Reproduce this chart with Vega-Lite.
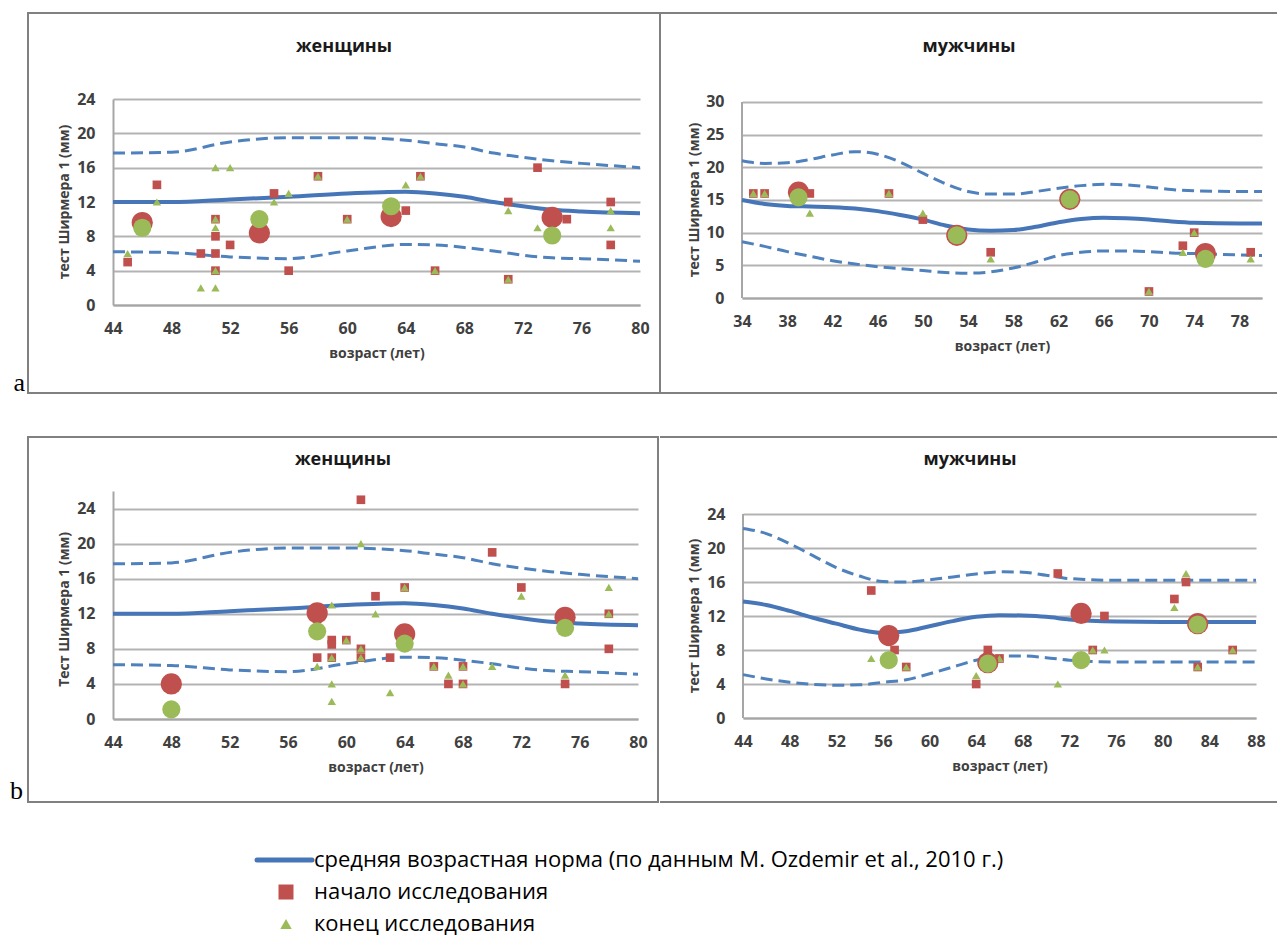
{
  "$schema": "https://vega.github.io/schema/vega-lite/v6.json",
  "padding": {"left": 10, "top": 12, "right": 0, "bottom": 0},
  "autosize": {"type": "pad"},
  "background": "white",
  "spacing": 38,
  "datasets": {
    "norm": [
      {"g":"w","k":"m","age":44,"v":12},{"g":"w","k":"m","age":48,"v":12},{"g":"w","k":"m","age":52,"v":12.3},{"g":"w","k":"m","age":56,"v":12.6},{"g":"w","k":"m","age":60,"v":13},{"g":"w","k":"m","age":64,"v":13.2},{"g":"w","k":"m","age":66,"v":13},{"g":"w","k":"m","age":68,"v":12.6},{"g":"w","k":"m","age":70,"v":12},{"g":"w","k":"m","age":72,"v":11.5},{"g":"w","k":"m","age":74,"v":11.1},{"g":"w","k":"m","age":76,"v":10.9},{"g":"w","k":"m","age":80,"v":10.7},
      {"g":"w","k":"h","age":44,"v":17.7},{"g":"w","k":"h","age":48,"v":17.8},{"g":"w","k":"h","age":52,"v":19},{"g":"w","k":"h","age":56,"v":19.5},{"g":"w","k":"h","age":60,"v":19.5},{"g":"w","k":"h","age":64,"v":19.2},{"g":"w","k":"h","age":66,"v":18.8},{"g":"w","k":"h","age":68,"v":18.4},{"g":"w","k":"h","age":70,"v":17.7},{"g":"w","k":"h","age":72,"v":17.2},{"g":"w","k":"h","age":74,"v":16.8},{"g":"w","k":"h","age":76,"v":16.5},{"g":"w","k":"h","age":80,"v":16},
      {"g":"w","k":"l","age":44,"v":6.2},{"g":"w","k":"l","age":48,"v":6.1},{"g":"w","k":"l","age":52,"v":5.6},{"g":"w","k":"l","age":56,"v":5.4},{"g":"w","k":"l","age":60,"v":6.3},{"g":"w","k":"l","age":64,"v":7.05},{"g":"w","k":"l","age":66,"v":7},{"g":"w","k":"l","age":68,"v":6.7},{"g":"w","k":"l","age":70,"v":6.3},{"g":"w","k":"l","age":72,"v":5.8},{"g":"w","k":"l","age":74,"v":5.5},{"g":"w","k":"l","age":76,"v":5.4},{"g":"w","k":"l","age":80,"v":5.1},
      {"g":"ma","k":"m","age":34,"v":15},{"g":"ma","k":"m","age":36,"v":14.4},{"g":"ma","k":"m","age":38,"v":14.1},{"g":"ma","k":"m","age":40,"v":14},{"g":"ma","k":"m","age":42,"v":13.9},{"g":"ma","k":"m","age":44,"v":13.7},{"g":"ma","k":"m","age":46,"v":13.3},{"g":"ma","k":"m","age":48,"v":12.7},{"g":"ma","k":"m","age":50,"v":12},{"g":"ma","k":"m","age":52,"v":11.1},{"g":"ma","k":"m","age":54,"v":10.5},{"g":"ma","k":"m","age":56,"v":10.3},{"g":"ma","k":"m","age":58,"v":10.4},{"g":"ma","k":"m","age":60,"v":10.9},{"g":"ma","k":"m","age":62,"v":11.6},{"g":"ma","k":"m","age":64,"v":12.1},{"g":"ma","k":"m","age":66,"v":12.3},{"g":"ma","k":"m","age":68,"v":12.2},{"g":"ma","k":"m","age":70,"v":12},{"g":"ma","k":"m","age":72,"v":11.7},{"g":"ma","k":"m","age":74,"v":11.5},{"g":"ma","k":"m","age":78,"v":11.4},{"g":"ma","k":"m","age":80,"v":11.4},
      {"g":"ma","k":"h","age":34,"v":21},{"g":"ma","k":"h","age":36,"v":20.6},{"g":"ma","k":"h","age":38,"v":20.7},{"g":"ma","k":"h","age":40,"v":21.2},{"g":"ma","k":"h","age":42,"v":21.9},{"g":"ma","k":"h","age":44,"v":22.4},{"g":"ma","k":"h","age":46,"v":22},{"g":"ma","k":"h","age":48,"v":20.8},{"g":"ma","k":"h","age":50,"v":19.1},{"g":"ma","k":"h","age":52,"v":17.5},{"g":"ma","k":"h","age":54,"v":16.3},{"g":"ma","k":"h","age":56,"v":15.9},{"g":"ma","k":"h","age":58,"v":15.9},{"g":"ma","k":"h","age":60,"v":16.3},{"g":"ma","k":"h","age":62,"v":16.8},{"g":"ma","k":"h","age":64,"v":17.2},{"g":"ma","k":"h","age":66,"v":17.4},{"g":"ma","k":"h","age":68,"v":17.3},{"g":"ma","k":"h","age":70,"v":17},{"g":"ma","k":"h","age":72,"v":16.6},{"g":"ma","k":"h","age":74,"v":16.4},{"g":"ma","k":"h","age":78,"v":16.3},{"g":"ma","k":"h","age":80,"v":16.3},
      {"g":"ma","k":"l","age":34,"v":8.6},{"g":"ma","k":"l","age":36,"v":7.9},{"g":"ma","k":"l","age":38,"v":7.1},{"g":"ma","k":"l","age":40,"v":6.4},{"g":"ma","k":"l","age":42,"v":5.7},{"g":"ma","k":"l","age":44,"v":5.2},{"g":"ma","k":"l","age":46,"v":4.8},{"g":"ma","k":"l","age":48,"v":4.5},{"g":"ma","k":"l","age":50,"v":4.2},{"g":"ma","k":"l","age":52,"v":3.9},{"g":"ma","k":"l","age":54,"v":3.8},{"g":"ma","k":"l","age":56,"v":4},{"g":"ma","k":"l","age":58,"v":4.6},{"g":"ma","k":"l","age":60,"v":5.5},{"g":"ma","k":"l","age":62,"v":6.5},{"g":"ma","k":"l","age":64,"v":7},{"g":"ma","k":"l","age":66,"v":7.2},{"g":"ma","k":"l","age":68,"v":7.2},{"g":"ma","k":"l","age":70,"v":7.1},{"g":"ma","k":"l","age":72,"v":6.9},{"g":"ma","k":"l","age":74,"v":6.8},{"g":"ma","k":"l","age":78,"v":6.6},{"g":"ma","k":"l","age":80,"v":6.5},
      {"g":"mb","k":"m","age":44,"v":13.7},{"g":"mb","k":"m","age":46,"v":13.3},{"g":"mb","k":"m","age":48,"v":12.6},{"g":"mb","k":"m","age":50,"v":11.8},{"g":"mb","k":"m","age":52,"v":11.1},{"g":"mb","k":"m","age":54,"v":10.4},{"g":"mb","k":"m","age":56,"v":10},{"g":"mb","k":"m","age":58,"v":10.2},{"g":"mb","k":"m","age":60,"v":10.8},{"g":"mb","k":"m","age":62,"v":11.4},{"g":"mb","k":"m","age":64,"v":11.9},{"g":"mb","k":"m","age":66,"v":12.1},{"g":"mb","k":"m","age":68,"v":12.05},{"g":"mb","k":"m","age":70,"v":11.9},{"g":"mb","k":"m","age":72,"v":11.6},{"g":"mb","k":"m","age":76,"v":11.35},{"g":"mb","k":"m","age":80,"v":11.3},{"g":"mb","k":"m","age":88,"v":11.3},
      {"g":"mb","k":"h","age":44,"v":22.3},{"g":"mb","k":"h","age":46,"v":21.7},{"g":"mb","k":"h","age":48,"v":20.5},{"g":"mb","k":"h","age":50,"v":19.1},{"g":"mb","k":"h","age":52,"v":17.7},{"g":"mb","k":"h","age":54,"v":16.7},{"g":"mb","k":"h","age":56,"v":16.05},{"g":"mb","k":"h","age":58,"v":16},{"g":"mb","k":"h","age":60,"v":16.25},{"g":"mb","k":"h","age":62,"v":16.6},{"g":"mb","k":"h","age":64,"v":16.95},{"g":"mb","k":"h","age":66,"v":17.2},{"g":"mb","k":"h","age":68,"v":17.15},{"g":"mb","k":"h","age":70,"v":16.8},{"g":"mb","k":"h","age":72,"v":16.4},{"g":"mb","k":"h","age":76,"v":16.2},{"g":"mb","k":"h","age":80,"v":16.2},{"g":"mb","k":"h","age":88,"v":16.2},
      {"g":"mb","k":"l","age":44,"v":5.1},{"g":"mb","k":"l","age":46,"v":4.6},{"g":"mb","k":"l","age":48,"v":4.2},{"g":"mb","k":"l","age":50,"v":3.95},{"g":"mb","k":"l","age":52,"v":3.85},{"g":"mb","k":"l","age":54,"v":3.9},{"g":"mb","k":"l","age":56,"v":4.2},{"g":"mb","k":"l","age":58,"v":4.5},{"g":"mb","k":"l","age":60,"v":5.2},{"g":"mb","k":"l","age":62,"v":6},{"g":"mb","k":"l","age":64,"v":6.8},{"g":"mb","k":"l","age":66,"v":7.3},{"g":"mb","k":"l","age":68,"v":7.3},{"g":"mb","k":"l","age":70,"v":7.1},{"g":"mb","k":"l","age":72,"v":6.8},{"g":"mb","k":"l","age":76,"v":6.6},{"g":"mb","k":"l","age":80,"v":6.6},{"g":"mb","k":"l","age":88,"v":6.6}
    ],
    "pts": [
      {"p":"aw","s":"S","age":45,"v":5},{"p":"aw","s":"S","age":47,"v":14},{"p":"aw","s":"S","age":50,"v":6},{"p":"aw","s":"S","age":51,"v":10},{"p":"aw","s":"S","age":51,"v":8},{"p":"aw","s":"S","age":51,"v":6},{"p":"aw","s":"S","age":51,"v":4},{"p":"aw","s":"S","age":52,"v":7},{"p":"aw","s":"S","age":55,"v":13},{"p":"aw","s":"S","age":56,"v":4},{"p":"aw","s":"S","age":58,"v":15},{"p":"aw","s":"S","age":60,"v":10},{"p":"aw","s":"S","age":64,"v":11},{"p":"aw","s":"S","age":65,"v":15},{"p":"aw","s":"S","age":66,"v":4},{"p":"aw","s":"S","age":71,"v":12},{"p":"aw","s":"S","age":71,"v":3},{"p":"aw","s":"S","age":73,"v":16},{"p":"aw","s":"S","age":75,"v":10},{"p":"aw","s":"S","age":78,"v":12},{"p":"aw","s":"S","age":78,"v":7},
      {"p":"aw","s":"E","age":45,"v":6},{"p":"aw","s":"E","age":47,"v":12},{"p":"aw","s":"E","age":50,"v":2},{"p":"aw","s":"E","age":51,"v":16},{"p":"aw","s":"E","age":51,"v":10},{"p":"aw","s":"E","age":51,"v":9},{"p":"aw","s":"E","age":51,"v":4},{"p":"aw","s":"E","age":51,"v":2},{"p":"aw","s":"E","age":52,"v":16},{"p":"aw","s":"E","age":55,"v":12},{"p":"aw","s":"E","age":56,"v":13},{"p":"aw","s":"E","age":58,"v":15},{"p":"aw","s":"E","age":60,"v":10},{"p":"aw","s":"E","age":64,"v":14},{"p":"aw","s":"E","age":65,"v":15},{"p":"aw","s":"E","age":66,"v":4},{"p":"aw","s":"E","age":71,"v":11},{"p":"aw","s":"E","age":71,"v":3},{"p":"aw","s":"E","age":73,"v":9},{"p":"aw","s":"E","age":78,"v":11},{"p":"aw","s":"E","age":78,"v":9},
      {"p":"am","s":"S","age":35,"v":16},{"p":"am","s":"S","age":36,"v":16},{"p":"am","s":"S","age":40,"v":16},{"p":"am","s":"S","age":47,"v":16},{"p":"am","s":"S","age":50,"v":12},{"p":"am","s":"S","age":56,"v":7},{"p":"am","s":"S","age":70,"v":1},{"p":"am","s":"S","age":73,"v":8},{"p":"am","s":"S","age":74,"v":10},{"p":"am","s":"S","age":79,"v":7},
      {"p":"am","s":"E","age":35,"v":16},{"p":"am","s":"E","age":36,"v":16},{"p":"am","s":"E","age":40,"v":13},{"p":"am","s":"E","age":47,"v":16},{"p":"am","s":"E","age":50,"v":13},{"p":"am","s":"E","age":56,"v":6},{"p":"am","s":"E","age":70,"v":1},{"p":"am","s":"E","age":73,"v":7},{"p":"am","s":"E","age":74,"v":10},{"p":"am","s":"E","age":79,"v":6},
      {"p":"bw","s":"S","age":58,"v":7},{"p":"bw","s":"S","age":59,"v":9},{"p":"bw","s":"S","age":59,"v":8.5},{"p":"bw","s":"S","age":59,"v":7},{"p":"bw","s":"S","age":60,"v":9},{"p":"bw","s":"S","age":61,"v":25},{"p":"bw","s":"S","age":61,"v":8},{"p":"bw","s":"S","age":61,"v":7},{"p":"bw","s":"S","age":62,"v":14},{"p":"bw","s":"S","age":63,"v":7},{"p":"bw","s":"S","age":64,"v":15},{"p":"bw","s":"S","age":66,"v":6},{"p":"bw","s":"S","age":67,"v":4},{"p":"bw","s":"S","age":68,"v":6},{"p":"bw","s":"S","age":68,"v":4},{"p":"bw","s":"S","age":70,"v":19},{"p":"bw","s":"S","age":72,"v":15},{"p":"bw","s":"S","age":75,"v":4},{"p":"bw","s":"S","age":78,"v":12},{"p":"bw","s":"S","age":78,"v":8},
      {"p":"bw","s":"E","age":58,"v":6},{"p":"bw","s":"E","age":59,"v":13},{"p":"bw","s":"E","age":59,"v":7},{"p":"bw","s":"E","age":59,"v":4},{"p":"bw","s":"E","age":59,"v":2},{"p":"bw","s":"E","age":60,"v":9},{"p":"bw","s":"E","age":61,"v":20},{"p":"bw","s":"E","age":61,"v":8},{"p":"bw","s":"E","age":61,"v":7},{"p":"bw","s":"E","age":62,"v":12},{"p":"bw","s":"E","age":63,"v":3},{"p":"bw","s":"E","age":64,"v":15},{"p":"bw","s":"E","age":66,"v":6},{"p":"bw","s":"E","age":67,"v":5},{"p":"bw","s":"E","age":68,"v":6},{"p":"bw","s":"E","age":68,"v":4},{"p":"bw","s":"E","age":70,"v":6},{"p":"bw","s":"E","age":72,"v":14},{"p":"bw","s":"E","age":75,"v":5},{"p":"bw","s":"E","age":78,"v":15},{"p":"bw","s":"E","age":78,"v":12},
      {"p":"bm","s":"S","age":55,"v":15},{"p":"bm","s":"S","age":57,"v":8},{"p":"bm","s":"S","age":58,"v":6},{"p":"bm","s":"S","age":64,"v":4},{"p":"bm","s":"S","age":65,"v":8},{"p":"bm","s":"S","age":66,"v":7},{"p":"bm","s":"S","age":71,"v":17},{"p":"bm","s":"S","age":74,"v":8},{"p":"bm","s":"S","age":75,"v":12},{"p":"bm","s":"S","age":81,"v":14},{"p":"bm","s":"S","age":82,"v":16},{"p":"bm","s":"S","age":83,"v":6},{"p":"bm","s":"S","age":86,"v":8},
      {"p":"bm","s":"E","age":55,"v":7},{"p":"bm","s":"E","age":58,"v":6},{"p":"bm","s":"E","age":64,"v":5},{"p":"bm","s":"E","age":66,"v":7},{"p":"bm","s":"E","age":71,"v":4},{"p":"bm","s":"E","age":74,"v":8},{"p":"bm","s":"E","age":75,"v":8},{"p":"bm","s":"E","age":81,"v":13},{"p":"bm","s":"E","age":82,"v":17},{"p":"bm","s":"E","age":83,"v":6},{"p":"bm","s":"E","age":86,"v":8}
    ],
    "means": [
      {"p":"aw","s":"S","age":46,"v":9.6},{"p":"aw","s":"S","age":54,"v":8.4},{"p":"aw","s":"S","age":63,"v":10.3},{"p":"aw","s":"S","age":74,"v":10.2},
      {"p":"aw","s":"E","age":46,"v":9.0},{"p":"aw","s":"E","age":54,"v":10.0},{"p":"aw","s":"E","age":63,"v":11.5},{"p":"aw","s":"E","age":74,"v":8.1},
      {"p":"am","s":"S","age":39,"v":16.2},{"p":"am","s":"S","age":53,"v":9.6},{"p":"am","s":"S","age":63,"v":15.1},{"p":"am","s":"S","age":75,"v":6.8},
      {"p":"am","s":"E","age":39,"v":15.4},{"p":"am","s":"E","age":53,"v":9.6},{"p":"am","s":"E","age":63,"v":15.1},{"p":"am","s":"E","age":75,"v":6.0},
      {"p":"bw","s":"S","age":48,"v":4.0},{"p":"bw","s":"S","age":58,"v":12.1},{"p":"bw","s":"S","age":64,"v":9.7},{"p":"bw","s":"S","age":75,"v":11.6},
      {"p":"bw","s":"E","age":48,"v":1.1},{"p":"bw","s":"E","age":58,"v":10.0},{"p":"bw","s":"E","age":64,"v":8.6},{"p":"bw","s":"E","age":75,"v":10.4},
      {"p":"bm","s":"S","age":56.5,"v":9.7},{"p":"bm","s":"S","age":65,"v":6.5},{"p":"bm","s":"S","age":73,"v":12.3},{"p":"bm","s":"S","age":83,"v":11.1},
      {"p":"bm","s":"E","age":56.5,"v":6.8},{"p":"bm","s":"E","age":65,"v":6.4},{"p":"bm","s":"E","age":73,"v":6.8},{"p":"bm","s":"E","age":83,"v":11.0}
    ]
  },
  "vconcat": [
    {
      "spacing": -1,
      "hconcat": [
        {
          "width": 527, "height": 206,
          "layer": [
            {"data": {"values": [{}]}, "mark": {"type": "rect", "filled": false, "stroke": "#808080", "strokeWidth": 2, "clip": false},
             "encoding": {
               "x": {"datum": 38.194, "type": "quantitative", "scale": {"domain": [44, 80], "nice": false, "zero": false}, "title": "возраст (лет)"},
               "x2": {"datum": 81.366},
               "y": {"datum": 34.019, "type": "quantitative", "scale": {"domain": [0, 24], "nice": false, "zero": false}, "title": null},
               "y2": {"datum": -10.252}}},
            {"data": {"values": [{"t": "a"}]}, "mark": {"type": "text", "font": "Liberation Serif", "fontSize": 26, "align": "right", "baseline": "bottom", "color": "#000000"},
             "encoding": {
               "x": {"datum": 37.989, "type": "quantitative", "scale": {"domain": [44, 80], "nice": false, "zero": false}, "title": "возраст (лет)"},
               "y": {"datum": -10.602, "type": "quantitative", "scale": {"domain": [0, 24], "nice": false, "zero": false}, "title": null},
               "text": {"field": "t"}}},
            {"data": {"values": [{"t": "женщины"}]}, "mark": {"type": "text", "font": "Open Sans", "fontSize": 18, "fontWeight": "bold", "align": "center", "baseline": "middle", "color": "#1a1a1a"},
             "encoding": {
               "x": {"datum": 59.78, "type": "quantitative", "scale": {"domain": [44, 80], "nice": false, "zero": false}, "title": "возраст (лет)"},
               "y": {"datum": 30.058, "type": "quantitative", "scale": {"domain": [0, 24], "nice": false, "zero": false}, "title": null},
               "text": {"field": "t"}}},
            {"data": {"values": [{"t": "тест Ширмера 1 (мм)"}]}, "mark": {"type": "text", "angle": 270, "font": "Open Sans", "fontSize": 14, "fontWeight": "bold", "align": "center", "baseline": "middle", "color": "#404040"},
             "encoding": {
               "x": {"datum": 40.721, "type": "quantitative", "scale": {"domain": [44, 80], "nice": false, "zero": false}, "title": "возраст (лет)"},
               "y": {"datum": 12, "type": "quantitative", "scale": {"domain": [0, 24], "nice": false, "zero": false}, "title": null},
               "text": {"field": "t"}}},
            {
              "encoding": {
                "x": {"field": "age", "type": "quantitative", "title": "возраст (лет)", "scale": {"domain": [44, 80], "nice": false, "zero": false}, "axis": {"values": [44,48,52,56,60,64,68,72,76,80], "tickCount": 40, "format": "d"}},
                "y": {"field": "v", "type": "quantitative", "title": null, "scale": {"domain": [0, 24], "nice": false, "zero": false}, "axis": {"values": [0,4,8,12,16,20,24], "tickCount": 40, "format": "d"}}
              },
              "layer": [
                {"data": {"name": "norm"}, "transform": [{"filter": "datum.g === 'w' && datum.k === 'h'"}], "mark": {"type": "line", "interpolate": "monotone", "color": "#4f81bd", "strokeWidth": 3, "strokeDash": [12, 6]}},
                {"data": {"name": "norm"}, "transform": [{"filter": "datum.g === 'w' && datum.k === 'l'"}], "mark": {"type": "line", "interpolate": "monotone", "color": "#4f81bd", "strokeWidth": 3, "strokeDash": [12, 6]}},
                {"data": {"name": "norm"}, "transform": [{"filter": "datum.g === 'w' && datum.k === 'm'"}], "mark": {"type": "line", "interpolate": "monotone", "color": "#4676b8", "strokeWidth": 4}},
                {"data": {"name": "pts"}, "transform": [{"filter": "datum.p === 'aw' && datum.s === 'S'"}], "mark": {"type": "point", "shape": "square", "filled": true, "size": 75, "color": "#c0504d", "opacity": 1}},
                {"data": {"name": "pts"}, "transform": [{"filter": "datum.p === 'aw' && datum.s === 'E'"}], "mark": {"type": "point", "shape": "triangle-up", "filled": true, "size": 70, "color": "#9bbb59", "opacity": 1}},
                {"data": {"name": "means"}, "transform": [{"filter": "datum.p === 'aw' && datum.s === 'S'"}], "mark": {"type": "circle", "size": 450, "color": "#c0504d", "opacity": 1}},
                {"data": {"name": "means"}, "transform": [{"filter": "datum.p === 'aw' && datum.s === 'E'"}], "mark": {"type": "circle", "size": 330, "color": "#9bbb59", "opacity": 1}}
              ]
            }
          ]
        },
        {
          "width": 520, "height": 199,
          "layer": [
            {"data": {"values": [{}]}, "mark": {"type": "rule", "stroke": "#808080", "strokeWidth": 2, "clip": false},
             "encoding": {
               "x": {"datum": 26.835, "type": "quantitative", "scale": {"domain": [34, 80], "nice": false, "zero": false}, "title": "возраст (лет)"},
               "x2": {"datum": 81.415},
               "y": {"datum": 43.622, "type": "quantitative", "scale": {"domain": [0, 30.459], "nice": false, "zero": false}, "title": null}}},
            {"data": {"values": [{}]}, "mark": {"type": "rule", "stroke": "#808080", "strokeWidth": 2, "clip": false},
             "encoding": {
               "x": {"datum": 26.835, "type": "quantitative", "scale": {"domain": [34, 80], "nice": false, "zero": false}, "title": "возраст (лет)"},
               "x2": {"datum": 81.415},
               "y": {"datum": -14.541, "type": "quantitative", "scale": {"domain": [0, 30.459], "nice": false, "zero": false}, "title": null}}},
            {"data": {"values": [{}]}, "mark": {"type": "rule", "stroke": "#a6a6a6", "strokeWidth": 2},
             "encoding": {
               "x": {"datum": 34, "type": "quantitative", "scale": {"domain": [34, 80], "nice": false, "zero": false}, "title": "возраст (лет)"},
               "y": {"datum": 0, "type": "quantitative", "scale": {"domain": [0, 30.459], "nice": false, "zero": false}, "title": null},
               "y2": {"datum": 30}}},
            {"data": {"values": [{"t": "мужчины"}]}, "mark": {"type": "text", "font": "Open Sans", "fontSize": 18, "fontWeight": "bold", "align": "center", "baseline": "middle", "color": "#1a1a1a"},
             "encoding": {
               "x": {"datum": 54.081, "type": "quantitative", "scale": {"domain": [34, 80], "nice": false, "zero": false}, "title": "возраст (лет)"},
               "y": {"datum": 38.418, "type": "quantitative", "scale": {"domain": [0, 30.459], "nice": false, "zero": false}, "title": null},
               "text": {"field": "t"}}},
            {"data": {"values": [{"t": "тест Ширмера 1 (мм)"}]}, "mark": {"type": "text", "angle": 270, "font": "Open Sans", "fontSize": 14, "fontWeight": "bold", "align": "center", "baseline": "middle", "color": "#404040"},
             "encoding": {
               "x": {"datum": 29.842, "type": "quantitative", "scale": {"domain": [34, 80], "nice": false, "zero": false}, "title": "возраст (лет)"},
               "y": {"datum": 15, "type": "quantitative", "scale": {"domain": [0, 30.459], "nice": false, "zero": false}, "title": null},
               "text": {"field": "t"}}},
            {
              "encoding": {
                "x": {"field": "age", "type": "quantitative", "title": "возраст (лет)", "scale": {"domain": [34, 80], "nice": false, "zero": false}, "axis": {"values": [34,38,42,46,50,54,58,62,66,70,74,78], "tickCount": 40, "format": "d"}},
                "y": {"field": "v", "type": "quantitative", "title": null, "scale": {"domain": [0, 30.459], "nice": false, "zero": false}, "axis": {"values": [0,5,10,15,20,25,30], "tickCount": 40, "format": "d", "domain": false}}
              },
              "layer": [
                {"data": {"name": "norm"}, "transform": [{"filter": "datum.g === 'ma' && datum.k === 'h'"}], "mark": {"type": "line", "interpolate": "monotone", "color": "#4f81bd", "strokeWidth": 3, "strokeDash": [12, 6]}},
                {"data": {"name": "norm"}, "transform": [{"filter": "datum.g === 'ma' && datum.k === 'l'"}], "mark": {"type": "line", "interpolate": "monotone", "color": "#4f81bd", "strokeWidth": 3, "strokeDash": [12, 6]}},
                {"data": {"name": "norm"}, "transform": [{"filter": "datum.g === 'ma' && datum.k === 'm'"}], "mark": {"type": "line", "interpolate": "monotone", "color": "#4676b8", "strokeWidth": 4}},
                {"data": {"name": "pts"}, "transform": [{"filter": "datum.p === 'am' && datum.s === 'S'"}], "mark": {"type": "point", "shape": "square", "filled": true, "size": 75, "color": "#c0504d", "opacity": 1}},
                {"data": {"name": "pts"}, "transform": [{"filter": "datum.p === 'am' && datum.s === 'E'"}], "mark": {"type": "point", "shape": "triangle-up", "filled": true, "size": 70, "color": "#9bbb59", "opacity": 1}},
                {"data": {"name": "means"}, "transform": [{"filter": "datum.p === 'am' && datum.s === 'S'"}], "mark": {"type": "circle", "size": 450, "color": "#c0504d", "opacity": 1}},
                {"data": {"name": "means"}, "transform": [{"filter": "datum.p === 'am' && datum.s === 'E'"}], "mark": {"type": "circle", "size": 330, "color": "#9bbb59", "opacity": 1}}
              ]
            }
          ]
        }
      ]
    },
    {
      "spacing": -1,
      "hconcat": [
        {
          "width": 525, "height": 228,
          "layer": [
            {"data": {"values": [{}]}, "mark": {"type": "rect", "filled": false, "stroke": "#808080", "strokeWidth": 2, "clip": false},
             "encoding": {
               "x": {"datum": 38.171, "type": "quantitative", "scale": {"domain": [44, 80], "nice": false, "zero": false}, "title": "возраст (лет)"},
               "x2": {"datum": 81.371},
               "y": {"datum": 32.158, "type": "quantitative", "scale": {"domain": [0, 26], "nice": false, "zero": false}, "title": null},
               "y2": {"datum": -9.465}}},
            {"data": {"values": [{"t": "b"}]}, "mark": {"type": "text", "font": "Liberation Serif", "fontSize": 26, "align": "right", "baseline": "bottom", "color": "#000000"},
             "encoding": {
               "x": {"datum": 37.829, "type": "quantitative", "scale": {"domain": [44, 80], "nice": false, "zero": false}, "title": "возраст (лет)"},
               "y": {"datum": -9.693, "type": "quantitative", "scale": {"domain": [0, 26], "nice": false, "zero": false}, "title": null},
               "text": {"field": "t"}}},
            {"data": {"values": [{"t": "женщины"}]}, "mark": {"type": "text", "font": "Open Sans", "fontSize": 18, "fontWeight": "bold", "align": "center", "baseline": "middle", "color": "#1a1a1a"},
             "encoding": {
               "x": {"datum": 59.771, "type": "quantitative", "scale": {"domain": [44, 80], "nice": false, "zero": false}, "title": "возраст (лет)"},
               "y": {"datum": 29.535, "type": "quantitative", "scale": {"domain": [0, 26], "nice": false, "zero": false}, "title": null},
               "text": {"field": "t"}}},
            {"data": {"values": [{"t": "Тест Ширмера 1 (мм)"}]}, "mark": {"type": "text", "angle": 270, "font": "Open Sans", "fontSize": 14, "fontWeight": "bold", "align": "center", "baseline": "middle", "color": "#404040"},
             "encoding": {
               "x": {"datum": 40.709, "type": "quantitative", "scale": {"domain": [44, 80], "nice": false, "zero": false}, "title": "возраст (лет)"},
               "y": {"datum": 12.5, "type": "quantitative", "scale": {"domain": [0, 26], "nice": false, "zero": false}, "title": null},
               "text": {"field": "t"}}},
            {
              "encoding": {
                "x": {"field": "age", "type": "quantitative", "title": "возраст (лет)", "scale": {"domain": [44, 80], "nice": false, "zero": false}, "axis": {"values": [44,48,52,56,60,64,68,72,76,80], "tickCount": 40, "format": "d"}},
                "y": {"field": "v", "type": "quantitative", "title": null, "scale": {"domain": [0, 26], "nice": false, "zero": false}, "axis": {"values": [0,4,8,12,16,20,24], "tickCount": 40, "format": "d"}}
              },
              "layer": [
                {"data": {"name": "norm"}, "transform": [{"filter": "datum.g === 'w' && datum.k === 'h'"}], "mark": {"type": "line", "interpolate": "monotone", "color": "#4f81bd", "strokeWidth": 3, "strokeDash": [12, 6]}},
                {"data": {"name": "norm"}, "transform": [{"filter": "datum.g === 'w' && datum.k === 'l'"}], "mark": {"type": "line", "interpolate": "monotone", "color": "#4f81bd", "strokeWidth": 3, "strokeDash": [12, 6]}},
                {"data": {"name": "norm"}, "transform": [{"filter": "datum.g === 'w' && datum.k === 'm'"}], "mark": {"type": "line", "interpolate": "monotone", "color": "#4676b8", "strokeWidth": 4}},
                {"data": {"name": "pts"}, "transform": [{"filter": "datum.p === 'bw' && datum.s === 'S'"}], "mark": {"type": "point", "shape": "square", "filled": true, "size": 75, "color": "#c0504d", "opacity": 1}},
                {"data": {"name": "pts"}, "transform": [{"filter": "datum.p === 'bw' && datum.s === 'E'"}], "mark": {"type": "point", "shape": "triangle-up", "filled": true, "size": 70, "color": "#9bbb59", "opacity": 1}},
                {"data": {"name": "means"}, "transform": [{"filter": "datum.p === 'bw' && datum.s === 'S'"}], "mark": {"type": "circle", "size": 450, "color": "#c0504d", "opacity": 1}},
                {"data": {"name": "means"}, "transform": [{"filter": "datum.p === 'bw' && datum.s === 'E'"}], "mark": {"type": "circle", "size": 330, "color": "#9bbb59", "opacity": 1}}
              ]
            }
          ]
        },
        {
          "width": 513, "height": 227,
          "layer": [
            {"data": {"values": [{}]}, "mark": {"type": "rule", "stroke": "#808080", "strokeWidth": 2, "clip": false},
             "encoding": {
               "x": {"datum": 36.881, "type": "quantitative", "scale": {"domain": [44, 88], "nice": false, "zero": false}, "title": "возраст (лет)"},
               "x2": {"datum": 89.801},
               "y": {"datum": 33.059, "type": "quantitative", "scale": {"domain": [0, 26.706], "nice": false, "zero": false}, "title": null}}},
            {"data": {"values": [{}]}, "mark": {"type": "rule", "stroke": "#808080", "strokeWidth": 2, "clip": false},
             "encoding": {
               "x": {"datum": 36.881, "type": "quantitative", "scale": {"domain": [44, 88], "nice": false, "zero": false}, "title": "возраст (лет)"},
               "x2": {"datum": 89.801},
               "y": {"datum": -9.882, "type": "quantitative", "scale": {"domain": [0, 26.706], "nice": false, "zero": false}, "title": null}}},
            {"data": {"values": [{}]}, "mark": {"type": "rule", "stroke": "#a6a6a6", "strokeWidth": 2},
             "encoding": {
               "x": {"datum": 44, "type": "quantitative", "scale": {"domain": [44, 88], "nice": false, "zero": false}, "title": "возраст (лет)"},
               "y": {"datum": 0, "type": "quantitative", "scale": {"domain": [0, 26.706], "nice": false, "zero": false}, "title": null},
               "y2": {"datum": 24}}},
            {"data": {"values": [{"t": "мужчины"}]}, "mark": {"type": "text", "font": "Open Sans", "fontSize": 18, "fontWeight": "bold", "align": "center", "baseline": "middle", "color": "#1a1a1a"},
             "encoding": {
               "x": {"datum": 63.47, "type": "quantitative", "scale": {"domain": [44, 88], "nice": false, "zero": false}, "title": "возраст (лет)"},
               "y": {"datum": 30.353, "type": "quantitative", "scale": {"domain": [0, 26.706], "nice": false, "zero": false}, "title": null},
               "text": {"field": "t"}}},
            {"data": {"values": [{"t": "тест Ширмера 1 (мм)"}]}, "mark": {"type": "text", "angle": 270, "font": "Open Sans", "fontSize": 14, "fontWeight": "bold", "align": "center", "baseline": "middle", "color": "#404040"},
             "encoding": {
               "x": {"datum": 39.883, "type": "quantitative", "scale": {"domain": [44, 88], "nice": false, "zero": false}, "title": "возраст (лет)"},
               "y": {"datum": 12, "type": "quantitative", "scale": {"domain": [0, 26.706], "nice": false, "zero": false}, "title": null},
               "text": {"field": "t"}}},
            {
              "encoding": {
                "x": {"field": "age", "type": "quantitative", "title": "возраст (лет)", "scale": {"domain": [44, 88], "nice": false, "zero": false}, "axis": {"values": [44,48,52,56,60,64,68,72,76,80,84,88], "tickCount": 40, "format": "d"}},
                "y": {"field": "v", "type": "quantitative", "title": null, "scale": {"domain": [0, 26.706], "nice": false, "zero": false}, "axis": {"values": [0,4,8,12,16,20,24], "tickCount": 40, "format": "d", "domain": false}}
              },
              "layer": [
                {"data": {"name": "norm"}, "transform": [{"filter": "datum.g === 'mb' && datum.k === 'h'"}], "mark": {"type": "line", "interpolate": "monotone", "color": "#4f81bd", "strokeWidth": 3, "strokeDash": [12, 6]}},
                {"data": {"name": "norm"}, "transform": [{"filter": "datum.g === 'mb' && datum.k === 'l'"}], "mark": {"type": "line", "interpolate": "monotone", "color": "#4f81bd", "strokeWidth": 3, "strokeDash": [12, 6]}},
                {"data": {"name": "norm"}, "transform": [{"filter": "datum.g === 'mb' && datum.k === 'm'"}], "mark": {"type": "line", "interpolate": "monotone", "color": "#4676b8", "strokeWidth": 4}},
                {"data": {"name": "pts"}, "transform": [{"filter": "datum.p === 'bm' && datum.s === 'S'"}], "mark": {"type": "point", "shape": "square", "filled": true, "size": 75, "color": "#c0504d", "opacity": 1}},
                {"data": {"name": "pts"}, "transform": [{"filter": "datum.p === 'bm' && datum.s === 'E'"}], "mark": {"type": "point", "shape": "triangle-up", "filled": true, "size": 70, "color": "#9bbb59", "opacity": 1}},
                {"data": {"name": "means"}, "transform": [{"filter": "datum.p === 'bm' && datum.s === 'S'"}], "mark": {"type": "circle", "size": 450, "color": "#c0504d", "opacity": 1}},
                {"data": {"name": "means"}, "transform": [{"filter": "datum.p === 'bm' && datum.s === 'E'"}], "mark": {"type": "circle", "size": 330, "color": "#9bbb59", "opacity": 1}}
              ]
            }
          ]
        }
      ]
    },
    {
      "width": 1000, "height": 99,
      "data": {"values": [
        {"lab": "средняя возрастная норма (по данным M. Ozdemir et al., 2010 г.)", "sym": "n"},
        {"lab": "начало исследования", "sym": "s"},
        {"lab": "конец исследования", "sym": "e"}
      ]},
      "encoding": {"y": {"field": "lab", "type": "nominal", "sort": null, "axis": null, "scale": {"type": "point", "padding": 0.547, "align": 0.486}}},
      "layer": [
        {"transform": [{"filter": "datum.sym === 'n'"}], "mark": {"type": "point", "shape": "stroke", "filled": false, "size": 3025, "strokeWidth": 5, "strokeCap": "round", "color": "#4676b8", "opacity": 1},
         "encoding": {"x": {"datum": 0.1715, "type": "quantitative", "scale": {"domain": [0, 1]}, "axis": null}}},
        {"transform": [{"filter": "datum.sym === 's'"}], "mark": {"type": "point", "shape": "square", "filled": true, "size": 225, "color": "#c0504d", "opacity": 1},
         "encoding": {"x": {"datum": 0.173, "type": "quantitative", "scale": {"domain": [0, 1]}, "axis": null}}},
        {"transform": [{"filter": "datum.sym === 'e'"}], "mark": {"type": "point", "shape": "triangle-up", "filled": true, "size": 130, "color": "#9bbb59", "opacity": 1},
         "encoding": {"x": {"datum": 0.173, "type": "quantitative", "scale": {"domain": [0, 1]}, "axis": null}}},
        {"mark": {"type": "text", "align": "left", "baseline": "middle", "font": "Open Sans", "fontSize": 22, "color": "#000000"},
         "encoding": {"x": {"datum": 0.201, "type": "quantitative", "scale": {"domain": [0, 1]}, "axis": null}, "text": {"field": "lab"}}}
      ]
    }
  ],
  "config": {
    "view": {"stroke": null},
    "axis": {
      "labelFont": "Open Sans", "labelFontSize": 16, "labelFontWeight": "bold", "labelColor": "#404040",
      "titleFont": "Open Sans", "titleFontSize": 14, "titleFontWeight": "bold", "titleColor": "#404040",
      "gridColor": "#b3b3b3", "gridWidth": 2, "domainColor": "#a6a6a6", "domainWidth": 2,
      "ticks": false, "tickSize": 0, "labelFlush": false, "labelOverlap": false
    },
    "axisX": {"grid": false, "labelPadding": 15, "titlePadding": 10},
    "axisY": {"grid": true, "labelPadding": 18}
  }
}
